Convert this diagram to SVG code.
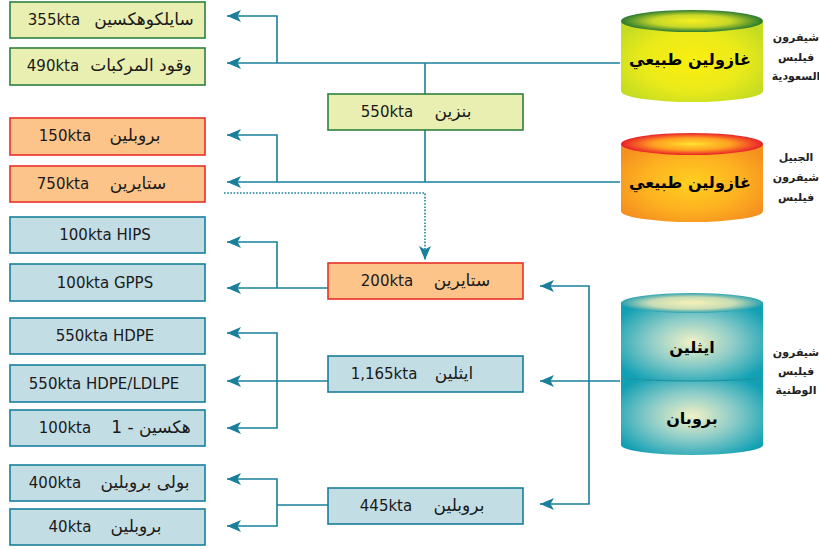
<svg xmlns="http://www.w3.org/2000/svg" width="819" height="549" viewBox="0 0 819 549">
<style>
.g{fill:#e8efb0;stroke:#2e8040;stroke-width:1.6}
.o{fill:#fdc48a;stroke:#e8302a;stroke-width:1.6}
.b{fill:#c3dde4;stroke:#1a7f9a;stroke-width:1.6}
.t{font-family:"DejaVu Sans","Liberation Sans",sans-serif;font-size:15px;fill:#1a1a1a;text-anchor:middle}
.a{font-family:"DejaVu Sans","Liberation Sans",sans-serif;font-size:17px;fill:#1a1a1a;text-anchor:middle}
.c{font-family:"DejaVu Sans","Liberation Sans",sans-serif;font-size:16px;font-weight:bold;fill:#000;text-anchor:middle}
.r{font-family:"DejaVu Sans","Liberation Sans",sans-serif;font-size:11px;font-weight:bold;fill:#222;text-anchor:middle}
.ln{fill:none;stroke:#1a7f9a;stroke-width:1.6}
.dot{fill:none;stroke:#1a7f9a;stroke-width:1.6;stroke-dasharray:1.6 1.6}
</style>
<defs>
<marker id="ah" viewBox="0 0 14 12" refX="14" refY="6" markerWidth="14" markerHeight="12" markerUnits="userSpaceOnUse" orient="auto">
<path d="M0,0 L14,6 L0,12 L3.5,6 Z" fill="#1a7f9a"/>
</marker>
<radialGradient id="yb" cx="0.5" cy="0.5" r="0.6"><stop offset="0" stop-color="#fbee10"/><stop offset="0.6" stop-color="#eaea1a"/><stop offset="1" stop-color="#c4dc22"/></radialGradient>
<radialGradient id="yt" cx="0.5" cy="0.5" r="0.5"><stop offset="0" stop-color="#f6ee20"/><stop offset="0.55" stop-color="#c8d828"/><stop offset="1" stop-color="#2a7a30"/></radialGradient>
<radialGradient id="ob" cx="0.5" cy="0.5" r="0.6"><stop offset="0" stop-color="#ffd020"/><stop offset="0.6" stop-color="#fdb020"/><stop offset="1" stop-color="#f59020"/></radialGradient>
<radialGradient id="ot" cx="0.5" cy="0.5" r="0.5"><stop offset="0" stop-color="#ffe030"/><stop offset="0.55" stop-color="#ffa020"/><stop offset="1" stop-color="#e8202a"/></radialGradient>
<radialGradient id="tb" cx="0.5" cy="0.5" r="0.6"><stop offset="0" stop-color="#f2f2c6"/><stop offset="0.5" stop-color="#8cccc8"/><stop offset="1" stop-color="#12a0b4"/></radialGradient>
<radialGradient id="tt" cx="0.5" cy="0.5" r="0.5"><stop offset="0" stop-color="#f6f2b8"/><stop offset="0.6" stop-color="#c8dcb4"/><stop offset="1" stop-color="#2aa2b0"/></radialGradient>
</defs>

<g id="connectors">
<path class="ln" d="M620,63 H227" marker-end="url(#ah)"/>
<path class="ln" d="M277,63 V16 H227" marker-end="url(#ah)"/>
<path class="ln" d="M425,63 V94 M425,130 V182"/>
<path class="ln" d="M620,182 H227" marker-end="url(#ah)"/>
<path class="ln" d="M277,182 V135 H227" marker-end="url(#ah)"/>
<path class="dot" d="M224,193 H425 V260" marker-end="url(#ah)"/>
<path class="ln" d="M328,288 H227" marker-end="url(#ah)"/>
<path class="ln" d="M277,288 V242 H227" marker-end="url(#ah)"/>
<path class="ln" d="M328,381 H227" marker-end="url(#ah)"/>
<path class="ln" d="M277,381 V333 H227" marker-end="url(#ah)"/>
<path class="ln" d="M277,381 V428 H227" marker-end="url(#ah)"/>
<path class="ln" d="M328,505 H277"/>
<path class="ln" d="M277,505 V479 H227" marker-end="url(#ah)"/>
<path class="ln" d="M277,505 V526 H227" marker-end="url(#ah)"/>
<path class="ln" d="M620,381 H540" marker-end="url(#ah)"/>
<path class="ln" d="M589,381 V286 H540" marker-end="url(#ah)"/>
<path class="ln" d="M589,381 V504 H540" marker-end="url(#ah)"/>
</g>

<g id="n1"><rect class="g" x="10" y="2" width="195" height="36"/><text class="t" x="54" y="25">355kta</text><text class="a" x="144" y="25">سايلكوهكسين</text></g>
<g id="n2"><rect class="g" x="10" y="48" width="195" height="37"/><text class="t" x="53" y="71">490kta</text><text class="a" x="141" y="71">وقود المركبات</text></g>
<g id="n3"><rect class="o" x="10" y="118" width="195" height="37"/><text class="t" x="65" y="141">150kta</text><text class="a" x="135" y="141">بروبلين</text></g>
<g id="n4"><rect class="o" x="10" y="166" width="195" height="36"/><text class="t" x="63" y="189">750kta</text><text class="a" x="138" y="189">ستايرين</text></g>
<g id="n5"><rect class="b" x="10" y="217" width="195" height="36"/><text class="t" x="105" y="240">100kta HIPS</text></g>
<g id="n6"><rect class="b" x="10" y="264" width="195" height="37"/><text class="t" x="105" y="288">100kta GPPS</text></g>
<g id="n7"><rect class="b" x="10" y="318" width="195" height="36"/><text class="t" x="105" y="341">550kta HDPE</text></g>
<g id="n8"><rect class="b" x="10" y="365" width="195" height="37"/><text class="t" x="104" y="389">550kta HDPE/LDLPE</text></g>
<g id="n9"><rect class="b" x="10" y="410" width="195" height="36"/><text class="t" x="65" y="433">100kta</text><text class="a" x="151" y="433">1 - هكسين</text></g>
<g id="n10"><rect class="b" x="10" y="465" width="195" height="36"/><text class="t" x="55" y="488">400kta</text><text class="a" x="145" y="488">بولى بروبلين</text></g>
<g id="n11"><rect class="b" x="10" y="509" width="195" height="36"/><text class="t" x="70" y="532">40kta</text><text class="a" x="136" y="532">بروبلين</text></g>

<g id="m1"><rect class="g" x="328" y="94" width="195" height="36"/><text class="t" x="387" y="117">550kta</text><text class="a" x="453" y="117">بنزين</text></g>
<g id="m2"><rect class="o" x="328" y="263" width="195" height="36"/><text class="t" x="387" y="286">200kta</text><text class="a" x="462" y="286">ستايرين</text></g>
<g id="m3"><rect class="b" x="328" y="356" width="195" height="36"/><text class="t" x="384" y="379">1,165kta</text><text class="a" x="454" y="379">ايثلين</text></g>
<g id="m4"><rect class="b" x="328" y="488" width="195" height="36"/><text class="t" x="386" y="511">445kta</text><text class="a" x="459" y="511">بروبلين</text></g>

<g id="cyl1">
<path d="M621,21 V91 A71,11 0 0 0 763,91 V21 Z" fill="url(#yb)"/>
<ellipse cx="692" cy="21" rx="71" ry="11" fill="url(#yt)"/>
<text class="c" x="690" y="65">غازولين طبيعي</text>
</g>
<g id="cyl2">
<path d="M621,144 V211 A71,11 0 0 0 763,211 V144 Z" fill="url(#ob)"/>
<ellipse cx="692" cy="144" rx="71" ry="11" fill="url(#ot)"/>
<text class="c" x="690" y="188">غازولين طبيعي</text>
</g>
<g id="cyl3">
<path d="M621,377 V445 A71,10 0 0 0 763,445 V377 A71,4 0 0 1 621,377 Z" fill="url(#tb)"/>
<path d="M621,303 V377 A71,4 0 0 0 763,377 V303 Z" fill="url(#tb)"/>
<path d="M621,377 A71,4 0 0 0 763,377" fill="none" stroke="#178e9e" stroke-width="1"/>
<ellipse cx="692" cy="303" rx="71" ry="10" fill="url(#tt)"/>
<text class="c" x="692" y="353">ايثلين</text>
<text class="c" x="692" y="424">بروبان</text>
</g>

<g id="labels">
<text class="r" x="796" y="41">شيفرون</text>
<text class="r" x="796" y="61">فيلبس</text>
<text class="r" x="796" y="80">السعودية</text>
<text class="r" x="796" y="161">الجبيل</text>
<text class="r" x="796" y="181">شيفرون</text>
<text class="r" x="796" y="201">فيلبس</text>
<text class="r" x="796" y="356">شيفرون</text>
<text class="r" x="796" y="375">فيلبس</text>
<text class="r" x="796" y="394">الوطنية</text>
</g>
</svg>
